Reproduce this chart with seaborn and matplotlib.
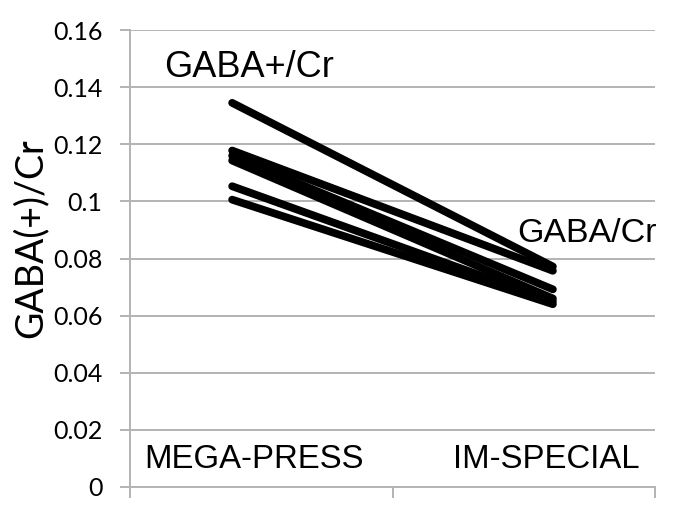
import numpy as np
import pandas as pd
import matplotlib.pyplot as plt
import seaborn as sns

# values (one line per subject)
methods = ["MEGA-PRESS", "IM-SPECIAL"]
mega_press = [0.1345, 0.1178, 0.1160, 0.1143, 0.1053, 0.1006]
im_special = [0.0772, 0.0757, 0.0692, 0.0660, 0.0650, 0.0640]
y_ticks = [0, 0.02, 0.04, 0.06, 0.08, 0.1, 0.12, 0.14, 0.16]
y_tick_labels = ["0", "0.02", "0.04", "0.06", "0.08", "0.1", "0.12", "0.14", "0.16"]

rows = []
for i, (a, b) in enumerate(zip(mega_press, im_special)):
    rows.append({"subject": i, "x": 0, "value": a})
    rows.append({"subject": i, "x": 1, "value": b})
df = pd.DataFrame(rows)

sns.set_theme(style="white")
plt.rcParams["font.family"] = ["Liberation Sans", "DejaVu Sans"]
plt.rcParams["text.color"] = "black"
plt.rcParams["ytick.labelcolor"] = "black"
plt.rcParams["axes.labelcolor"] = "black"

fig = plt.figure(figsize=(6.85, 5.13), dpi=100)
ax = fig.add_axes([0.19, 0.0507, 0.766, 0.8908])

sns.lineplot(data=df, x="x", y="value", units="subject", estimator=None,
             color="black", linewidth=5.6, solid_capstyle="round", ax=ax,
             legend=False)

ax.set_xlim(-0.318, 1.318)
ax.set_ylim(0, 0.16)

grid_c = "#b3b3b3"
ax.set_yticks(y_ticks)
ax.set_yticklabels(y_tick_labels, fontfamily="Lato", fontsize=18)
ax.yaxis.grid(True, color=grid_c, linewidth=1.4)
ax.set_axisbelow(True)
ax.set_xticks([-0.318, 0.5, 1.318])
ax.set_xticklabels([])
ax.tick_params(axis="y", length=7, width=1.4, color=grid_c, direction="out", pad=13, left=True)
ax.tick_params(axis="x", length=8, width=1.4, color=grid_c, direction="out", bottom=True)

for s in ["top", "right"]:
    ax.spines[s].set_visible(False)
for s in ["left", "bottom"]:
    ax.spines[s].set_color(grid_c)
    ax.spines[s].set_linewidth(1.4)

ax.set_xlabel("")
ax.set_ylabel("GABA(+)/Cr", fontfamily="Lato", fontsize=27, va="center")
ax.yaxis.set_label_coords(-0.19, 0.545)

# category labels sit inside the plot, as in the original
ax.text(0.067, 0.0095, methods[0], ha="center", va="center", fontsize=23.7)
ax.text(0.978, 0.0095, methods[1], ha="center", va="center", fontsize=23.7)
ax.text(0.053, 0.1467, "GABA+/Cr", ha="center", va="center", fontsize=26)
ax.text(1.106, 0.0887, "GABA/Cr", ha="center", va="center", fontsize=24.5)

fig.savefig("out.png", dpi=100)
